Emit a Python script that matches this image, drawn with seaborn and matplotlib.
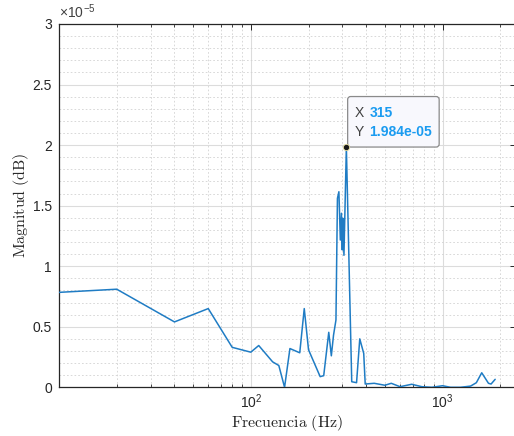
import numpy as np
import matplotlib
matplotlib.use("Agg")
import matplotlib.pyplot as plt
import seaborn as sns
from matplotlib.patches import FancyBboxPatch
from matplotlib.transforms import ScaledTranslation
from matplotlib.ticker import FixedLocator, FixedFormatter, MultipleLocator, LogLocator, NullFormatter

# ---- data ----
frecuencia = [10, 20, 40, 60, 80, 100, 110, 130, 140, 150, 160, 180, 190, 200,
              230, 240, 255, 263, 270, 278, 283, 288, 293, 297, 300, 302, 306,
              315, 336, 356, 370, 388, 395, 440, 500, 540, 600, 690, 780, 880,
              1000, 1100, 1240, 1400, 1500, 1600, 1735, 1790, 1880]
magnitud_e5 = [0.784, 0.81, 0.54, 0.65, 0.33, 0.29, 0.345, 0.21, 0.18, 0.0, 0.32,
               0.285, 0.65, 0.31, 0.088, 0.096, 0.454, 0.26, 0.43, 0.556, 1.56,
               1.615, 1.216, 1.437, 1.134, 1.396, 1.09, 1.984, 0.046, 0.038, 0.40,
               0.28, 0.027, 0.033, 0.017, 0.033, 0.005, 0.025, 0.005, 0.0, 0.013,
               0.0, 0.0, 0.01, 0.038, 0.12, 0.033, 0.027, 0.066]
magnitud = np.array(magnitud_e5) * 1e-5
cursor_x = 315
cursor_y = 1.984e-05
x_ticks = [100, 1000]
x_tick_labels = [r'$\mathregular{10^{2}}$', r'$\mathregular{10^{3}}$']
y_ticks = [0, 0.5e-5, 1e-5, 1.5e-5, 2e-5, 2.5e-5, 3e-5]
y_tick_labels = ['0', '0.5', '1', '1.5', '2', '2.5', '3']

sns.set_style("white")
plt.rcParams['font.family'] = ['Liberation Sans', 'DejaVu Sans']
plt.rcParams['mathtext.fontset'] = 'cm'

DARK = '#262626'
fig = plt.figure(figsize=(5.14, 4.36), dpi=100)
ax = fig.add_axes([59 / 514, (436 - 387.3) / 436, (515.5 - 59) / 514, (387.3 - 24) / 436])

sns.lineplot(x=frecuencia, y=magnitud, ax=ax, estimator=None, sort=False,
             color='#1f7cc4', linewidth=1.1, zorder=3)

ax.set_xscale('log')
ax.set_xlim(10, 2400)
ax.set_ylim(0, 3e-5)

ax.xaxis.set_major_locator(FixedLocator(x_ticks))
ax.xaxis.set_major_formatter(FixedFormatter(x_tick_labels))
ax.xaxis.set_minor_locator(LogLocator(base=10, subs=np.arange(2, 10), numticks=20))
ax.xaxis.set_minor_formatter(NullFormatter())
ax.yaxis.set_major_locator(FixedLocator(y_ticks))
ax.yaxis.set_major_formatter(FixedFormatter(y_tick_labels))
ax.yaxis.set_minor_locator(MultipleLocator(0.1e-5))

ax.grid(True, which='major', color='#dcdcdc', linewidth=0.8, linestyle='-')
ax.grid(True, which='minor', color='#d2d2d2', linewidth=0.6, linestyle=(0, (2, 2.5)))
ax.set_axisbelow(True)

ax.tick_params(axis='both', which='major', direction='in', length=4, width=0.7,
               colors=DARK, labelsize=10, top=True, right=True)
ax.tick_params(axis='x', which='minor', direction='in', length=2.5, width=0.6,
               colors=DARK, top=True, bottom=True)
ax.tick_params(axis='y', which='minor', length=0, left=False, right=False)
ax.tick_params(axis='x', which='major', pad=4)
ax.tick_params(axis='y', which='major', pad=5)
for s in ax.spines.values():
    s.set_color(DARK)
    s.set_linewidth(0.9)

ax.set_xlabel(r'$\mathrm{Frecuencia\ (Hz)}$', fontsize=11.5, color=DARK, labelpad=1)
ax.set_ylabel(r'$\mathrm{Magnitud\ (dB)}$', fontsize=11.5, color=DARK, labelpad=1)

# exponent label
ax.text(0.0, 1.008, '×10' + r'$^{\mathregular{-5}}$', transform=ax.transAxes,
        ha='left', va='bottom', fontsize=10, color='#404040')

# data tip
tr = fig.dpi_scale_trans + ScaledTranslation(cursor_x, cursor_y, ax.transData)
box = FancyBboxPatch((0.013, 0.0), 0.915, 0.505, boxstyle='round,pad=0,rounding_size=0.03',
                     transform=tr, facecolor='#f8f8fd', edgecolor='#8a8a8a',
                     linewidth=0.9, zorder=5, clip_on=False)
ax.add_patch(box)
ax.text(0.083, 0.34, 'X', transform=tr, ha='left', va='center', fontsize=10,
        color='#404040', zorder=6)
ax.text(0.23, 0.34, str(cursor_x), transform=tr, ha='left', va='center', fontsize=10,
        color='#1a9bf0', fontweight='bold', zorder=6)
ax.text(0.083, 0.155, 'Y', transform=tr, ha='left', va='center', fontsize=10,
        color='#404040', zorder=6)
ax.text(0.23, 0.155, '1.984e-05', transform=tr, ha='left', va='center', fontsize=10,
        color='#1a9bf0', fontweight='bold', zorder=6)
ax.plot([cursor_x], [cursor_y], marker='o', markersize=4.5, markerfacecolor='#1a1a1a',
        markeredgecolor='#e8e0a0', markeredgewidth=0.6, zorder=7, clip_on=False)

fig.savefig('out.png', dpi=100)
